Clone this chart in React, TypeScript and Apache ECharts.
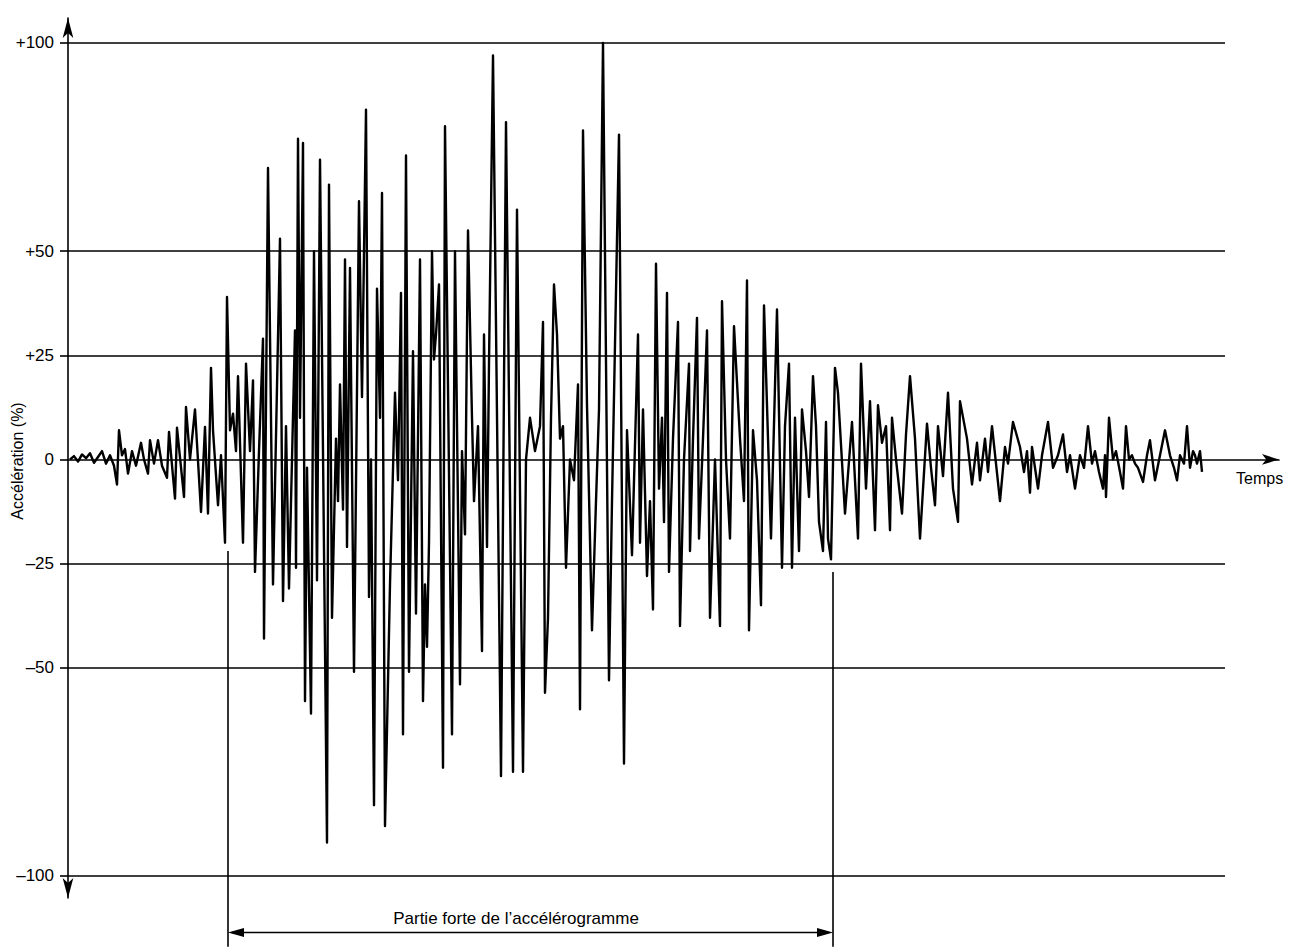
import React, { useEffect, useRef } from "react";
import * as echarts from "echarts";

// Time axis: sample index; acceleration in % (of g)
const sampleIdx = [
  0, 4, 8, 12, 16, 20, 24, 28, 32, 36, 40, 44, 47, 49, 52, 55, 58, 62, 66, 71,
  74, 78, 80, 84, 88, 92, 97, 99, 105, 107, 114, 116, 120, 125, 131, 135, 138, 141, 143, 148,
  151, 155, 157, 160, 163, 166, 168, 173, 176, 180, 183, 185, 189, 193, 194, 198, 203, 210, 213, 216,
  219, 225, 226, 228, 230, 233, 235, 237, 241, 244, 247, 250, 257, 259, 262, 266, 268, 270, 273, 275,
  277, 280, 284, 289, 292, 296, 299, 301, 304, 307, 310, 312, 315, 320, 325, 328, 331, 333, 336, 339,
  343, 346, 350, 353, 355, 357, 359, 362, 364, 366, 369, 373, 375, 382, 385, 390, 392, 395, 398, 402,
  404, 408, 412, 414, 417, 419, 423, 431, 436, 443, 447, 453, 456, 460, 465, 470, 473, 475, 478, 481,
  484, 487, 490, 493, 496, 500, 504, 508, 510, 513, 517, 522, 526, 529, 533, 539, 542, 549, 554, 557,
  562, 568, 570, 573, 577, 580, 583, 586, 589, 592, 594, 597, 599, 603, 608, 610, 614, 619, 620, 623,
  627, 629, 633, 637, 640, 645, 650, 652, 656, 660, 664, 670, 674, 677, 679, 683, 687, 691, 694, 698,
  701, 707, 712, 715, 719, 722, 725, 729, 732, 736, 739, 743, 746, 749, 753, 756, 758, 761, 765, 768,
  775, 782, 788, 791, 796, 800, 805, 808, 812, 816, 820, 822, 826, 832, 836, 840, 845, 850, 857, 861,
  865, 868, 873, 878, 883, 888, 890, 897, 902, 907, 910, 915, 918, 922, 930, 935, 938, 943, 950, 954,
  957, 960, 962, 968, 972, 978, 983, 988, 993, 997, 1000, 1005, 1010, 1014, 1018, 1022, 1025, 1029, 1033, 1035,
  1036, 1039, 1043, 1046, 1050, 1053, 1056, 1059, 1062, 1065, 1068, 1073, 1077, 1080, 1085, 1090, 1095, 1100, 1104, 1107,
  1110, 1114, 1117, 1120, 1123, 1125, 1127, 1130, 1132,
];

const accel = [
  0, 0.8, -0.5, 1.2, 0.3, 1.5, -0.8, 0.6, 2, -1, 1, -1.5, -6, 7, 1, 2.5, -3.4, 2, -1.5, 4,
  0, -3.4, 4.6, -1, 4.6, -1.5, -4.4, 6.6, -9.4, 7.6, -9, 12.6, 0, 12, -12.6, 7.8, -13, 22, 7, -11,
  1, -20, 39, 7, 11, 2, 20, -20, 23, 2, 19, -27, 2, 29, -43, 70, -30, 53, -34, 8,
  -31, 31, -26, 77, 10, 76, -58, -2, -61, 50, -29, 72, -92, 66, -38, 5, -10, 18, -12, 48,
  -21, 46, -51, 62, 15, 84, -33, 0, -83, 41, 10, 64, -88, -30, 16, -5, 40, -66, 73, -51,
  26, -37, 48, -58, -30, -45, -20, 50, 24, 30, 42, -74, 80, -66, 50, -54, 2, -18, 55, 10,
  -10, 8, -46, 30, -21, 23, 97, -76, 81, -75, 60, -75, 0, 10, 2, 8, 33, -56, -38, 10,
  42, 30, 5, 8, -26, 0, -5, 18, -60, 79, 13, -41, -10, 12, 100, -53, -10, 78, -73, 7,
  -23, 30, -20, 12, -28, -10, -36, 47, -7, 10, -15, 40, -27, 5, 33, -40, 0, 23, -22, 5,
  34, -19, 5, 31, -38, 0, -40, 38, 0, -19, 32, 5, -10, 43, -41, 7, -5, -35, 37, 5,
  -19, 36, -26, 8, 23, -26, 10, -22, 12, 2, -9, 20, 8, -15, -22, 9, -19, -24, 22, 16,
  -13, 9, -19, 23, -7, 14, -17, 13, 4, 8, -17, 10, 0, -13, 6, 20, 5, -19, 8.6, -2,
  -11, 8, -4, 16, -7, -15, 14, 5, -6, 4, -5, 5, -3, 8, -10, 3, -1, 9, 3, -3,
  2, -8, 3, -7, 1, 9, -2, 1, 6, -3, 1, -7, 1, -2, 8, -1, 2, -3, -7, 1,
  -9, 10, 0, 2, -3, -7, 8, 0, 1, -1, -2, -5.4, 1, 4.6, -5, 1, 7, 1, -2, -5,
  1, -1, 8, -2, 2, 1, -1, 2, -3,
];

const yTickValues = [-100, -50, -25, 0, 25, 50, 100];
const yTickLabels = ["\u2013100", "\u201350", "\u201325", "0", "+25", "+50", "+100"];
const gridLineValues = [-100, -50, -25, 25, 50, 100];

// Strong-motion part: [start sample, end sample, level under start, level under end]
const strongPart = [[158, 763, -22, -27]];
const strongLabel = "Partie forte de l\u2019acc\u00e9l\u00e9rogramme";
const strongLabelAt = 446;

const FONT = "'Liberation Sans', Arial, Helvetica, sans-serif";

export default function App() {
  const ref = useRef<HTMLDivElement>(null);

  useEffect(() => {
    document.body.style.margin = "0";
    document.body.style.overflow = "hidden";
    const chart = echarts.init(ref.current!, undefined, { renderer: "svg" });

    const xMin = -2;
    const xMax = 1209;
    const yMin = -105.3;
    const yMax = 106;
    const gridLineEnd = 1155;

    chart.setOption({
      animation: false,
      backgroundColor: "#ffffff",
      grid: { left: 68, right: 20, top: 18, bottom: 51 },
      xAxis: {
        type: "value",
        min: xMin,
        max: xMax,
        axisLine: {
          onZero: true,
          symbol: ["none", "arrow"],
          symbolSize: [8, 17],
          lineStyle: { color: "#000", width: 1.6 },
        },
        axisTick: { show: false },
        axisLabel: { show: false },
        splitLine: { show: false },
      },
      yAxis: {
        type: "value",
        min: yMin,
        max: yMax,
        axisLine: {
          onZero: false,
          symbol: ["arrow", "arrow"],
          symbolSize: [8, 20],
          lineStyle: { color: "#000", width: 1.6 },
        },
        axisTick: {
          show: true,
          customValues: yTickValues,
          length: 8,
          lineStyle: { color: "#000", width: 1.6 },
        },
        axisLabel: {
          show: true,
          customValues: yTickValues,
          margin: 14,
          color: "#000",
          fontSize: 17,
          fontFamily: FONT,
          formatter: (v: number) => {
            const i = yTickValues.indexOf(Math.round(v));
            return i >= 0 ? yTickLabels[i] : "";
          },
        },
        splitLine: { show: false },
      },
      graphic: [
        {
          type: "text",
          x: 17,
          y: 461,
          rotation: Math.PI / 2,
          style: {
            text: "Acc\u00e9l\u00e9ration (%)",
            fontSize: 16,
            fontFamily: FONT,
            fill: "#000",
            align: "center",
            verticalAlign: "middle",
          },
        },
        {
          type: "text",
          x: 1236,
          y: 478,
          style: {
            text: "Temps",
            fontSize: 16,
            fontFamily: FONT,
            fill: "#000",
            align: "left",
            verticalAlign: "middle",
          },
        },
      ],
      series: [
        {
          type: "line",
          data: sampleIdx.map((t, i) => [t, accel[i]]),
          showSymbol: false,
          symbol: "none",
          clip: false,
          z: 3,
          lineStyle: { color: "#000", width: 2.4, join: "round" },
          emphasis: { disabled: true },
          markLine: {
            silent: true,
            symbol: ["none", "none"],
            label: { show: false },
            emphasis: { disabled: true },
            lineStyle: { color: "#000", width: 1.6, type: "solid" },
            data: gridLineValues.map((v) => [
              { coord: [xMin, v] },
              { coord: [gridLineEnd, v] },
            ]),
          },
        },
        {
          type: "custom",
          coordinateSystem: "cartesian2d",
          clip: false,
          silent: true,
          z: 4,
          data: strongPart,
          encode: { x: [0, 1], y: [2, 3] },
          renderItem: (params: any, api: any) => {
            const s = api.value(0);
            const e = api.value(1);
            const ls = api.value(2);
            const le = api.value(3);
            const bottomV = -117;
            const arrowV = -113.6;
            const labelV = -110.2;
            const p1 = api.coord([s, ls]);
            const p1b = api.coord([s, bottomV]);
            const p2 = api.coord([e, le]);
            const p2b = api.coord([e, bottomV]);
            const a1 = api.coord([s, arrowV]);
            const a2 = api.coord([e, arrowV]);
            const lab = api.coord([strongLabelAt, labelV]);
            const ah = 16;
            const aw = 4.5;
            const stroke = { stroke: "#000", lineWidth: 1.6 };
            return {
              type: "group",
              children: [
                { type: "line", shape: { x1: p1[0], y1: p1[1], x2: p1b[0], y2: p1b[1] }, style: stroke },
                { type: "line", shape: { x1: p2[0], y1: p2[1], x2: p2b[0], y2: p2b[1] }, style: stroke },
                { type: "line", shape: { x1: a1[0] + 4, y1: a1[1], x2: a2[0] - 4, y2: a2[1] }, style: stroke },
                {
                  type: "polygon",
                  shape: { points: [[a1[0], a1[1]], [a1[0] + ah, a1[1] - aw], [a1[0] + ah, a1[1] + aw]] },
                  style: { fill: "#000" },
                },
                {
                  type: "polygon",
                  shape: { points: [[a2[0], a2[1]], [a2[0] - ah, a2[1] - aw], [a2[0] - ah, a2[1] + aw]] },
                  style: { fill: "#000" },
                },
                {
                  type: "text",
                  x: lab[0],
                  y: lab[1],
                  style: {
                    text: strongLabel,
                    fontSize: 17,
                    fontFamily: FONT,
                    fill: "#000",
                    align: "center",
                    verticalAlign: "middle",
                  },
                },
              ],
            };
          },
        },
      ],
    });

    return () => chart.dispose();
  }, []);

  return <div ref={ref} style={{ width: 1299, height: 949 }} />;
}
